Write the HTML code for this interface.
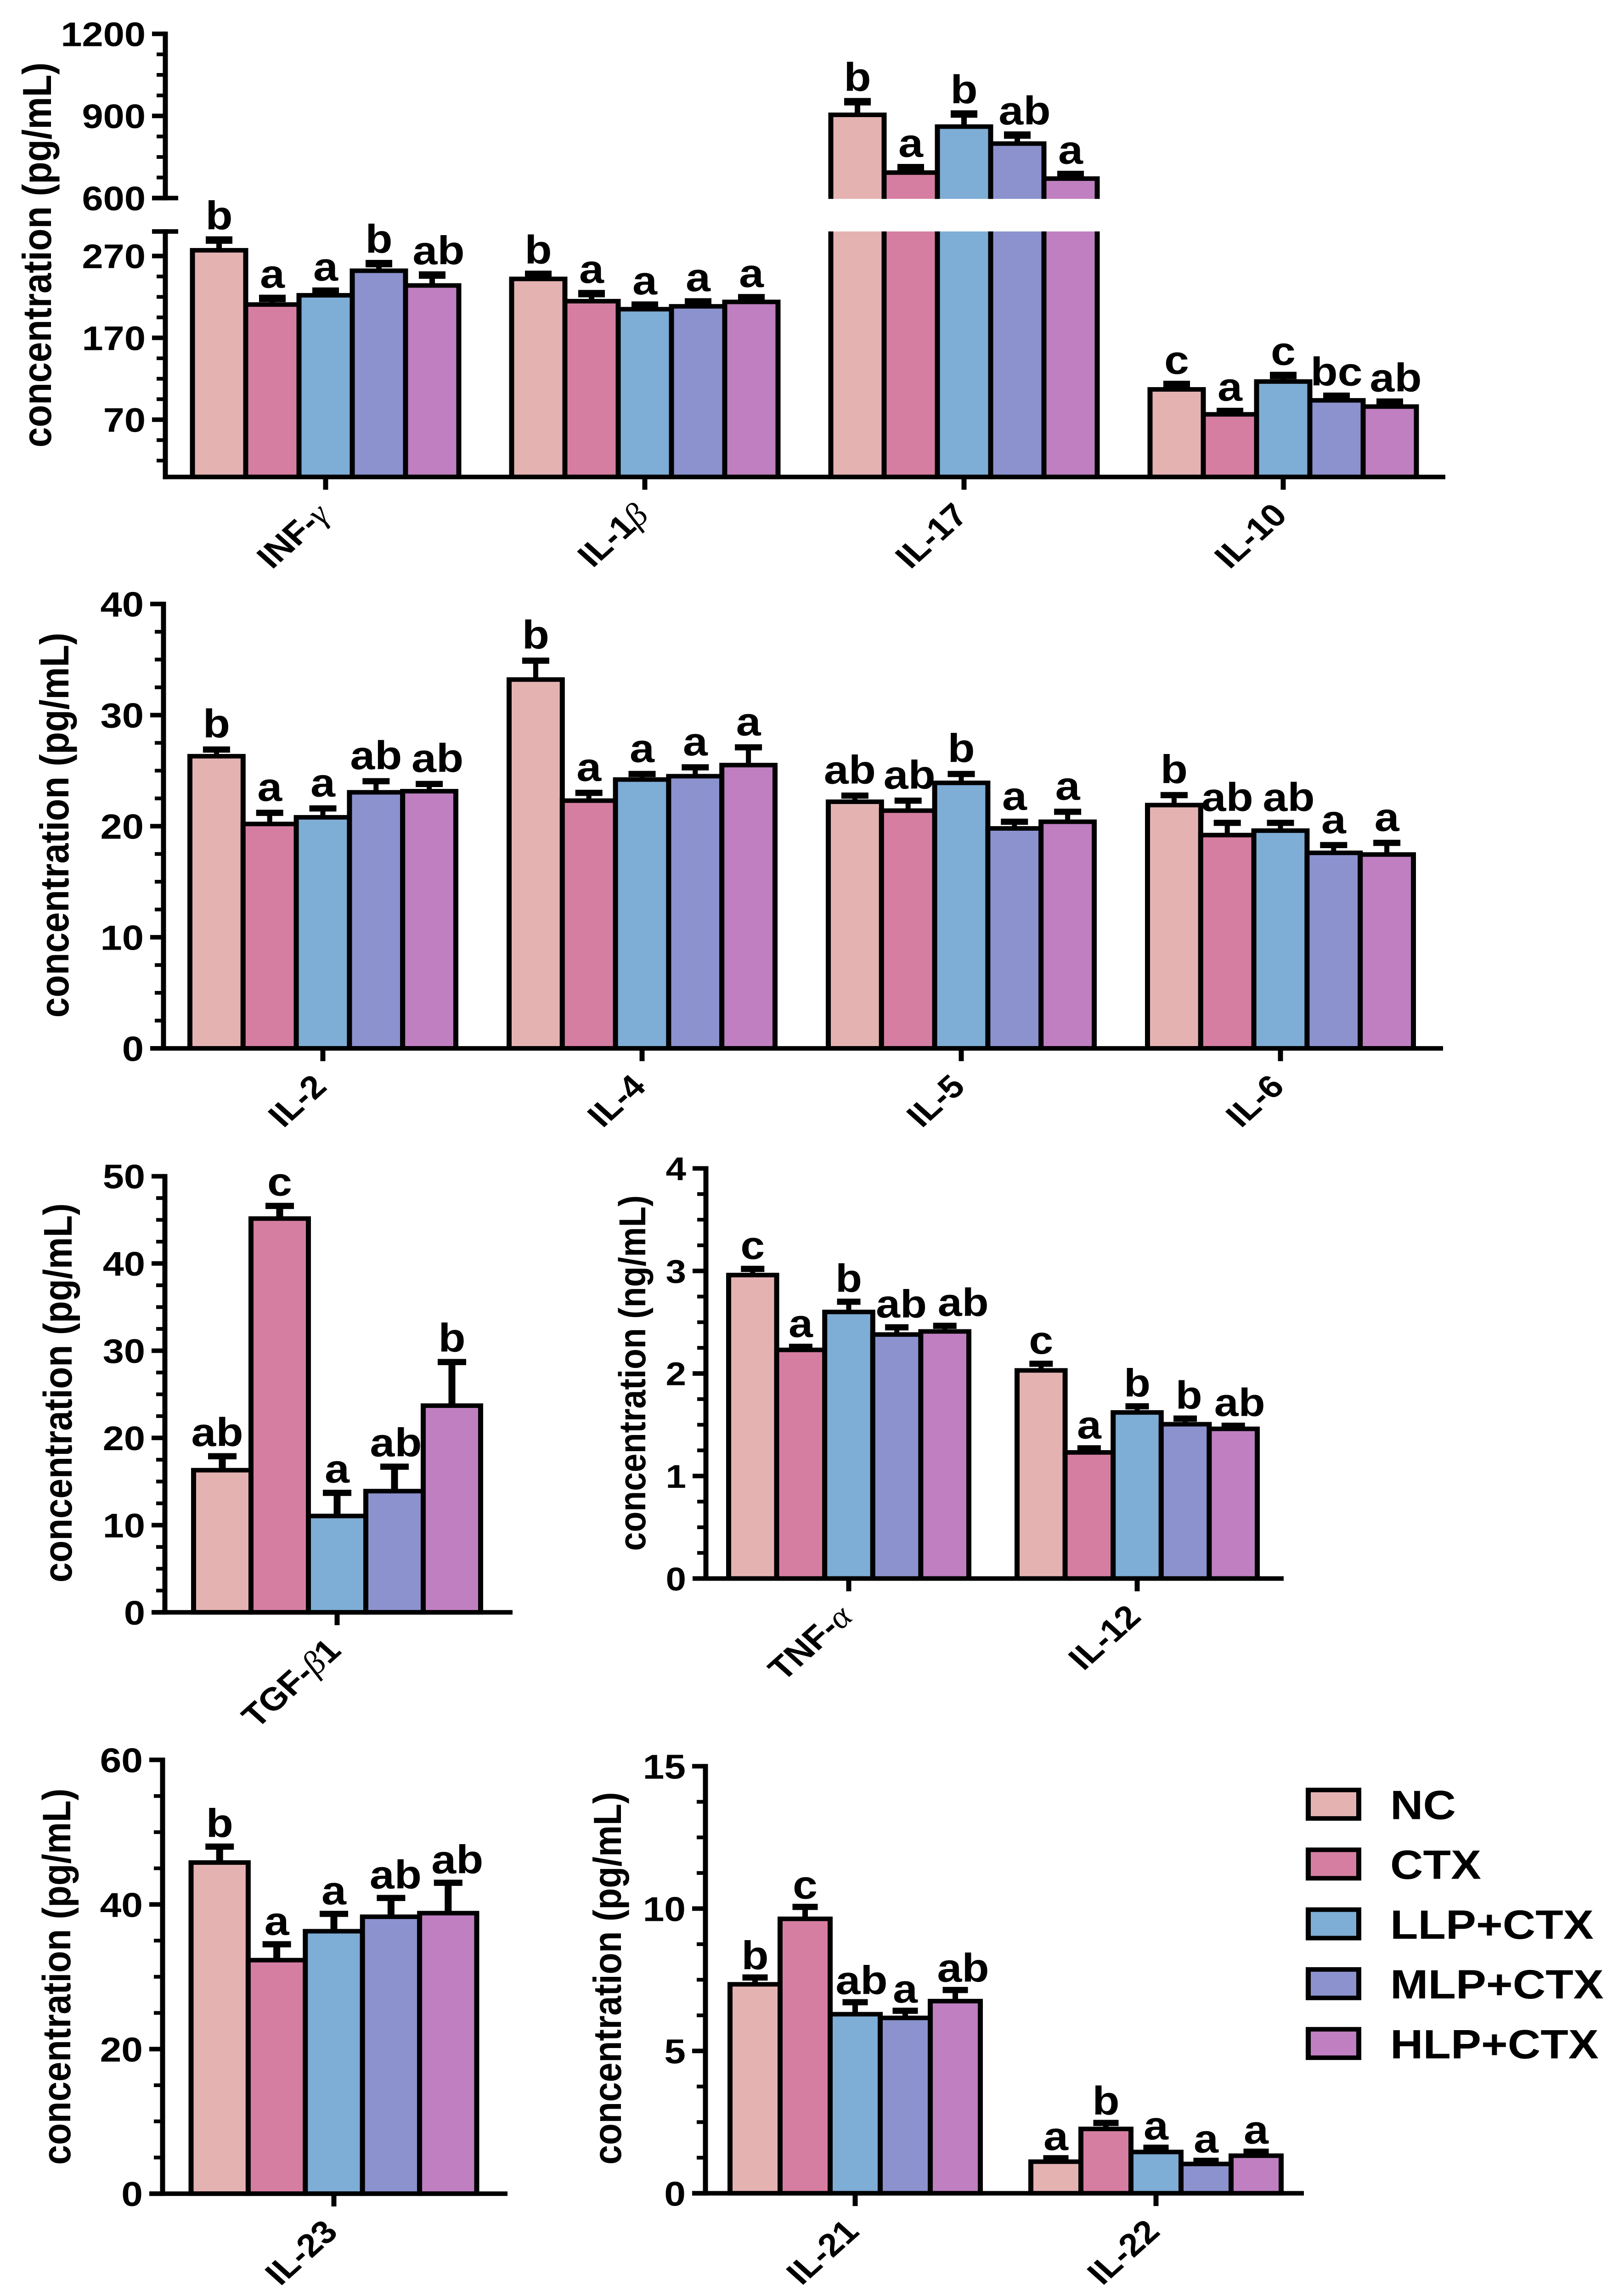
<!DOCTYPE html>
<html lang="en">
<head>
<meta charset="utf-8">
<title>Cytokine concentrations</title>
<style>
html,body{margin:0;padding:0;background:#fff;width:100%;height:100%;overflow:hidden;}
svg{display:block;position:absolute;left:0;top:0;overflow:hidden;width:100vw;height:100vh;}
text{font-family:"Liberation Sans",sans-serif;font-weight:bold;fill:#000;}
</style>
</head>
<body>
<svg id="figure" xmlns="http://www.w3.org/2000/svg" viewBox="0 0 3536 5565" preserveAspectRatio="none">
  <rect x="0" y="0" width="3536" height="5565" fill="#fff"/>
  <g id="panels"></g>
  <g>
    <g>
      <rect x="2848.5" y="4338.5" width="110" height="69" fill="#E5B2B2" stroke="#000" stroke-width="11"/>
      <text x="3027" y="4409" font-size="99">NC</text>
    </g>
    <g>
      <rect x="2848.5" y="4483.5" width="110" height="69" fill="#D67EA2" stroke="#000" stroke-width="11"/>
      <text x="3027" y="4554" font-size="99">CTX</text>
    </g>
    <g>
      <rect x="2848.5" y="4628.5" width="110" height="69" fill="#7EADD6" stroke="#000" stroke-width="11"/>
      <text x="3027" y="4699" font-size="99">LLP+CTX</text>
    </g>
    <g>
      <rect x="2848.5" y="4773.5" width="110" height="69" fill="#8B92CE" stroke="#000" stroke-width="11"/>
      <text x="3027" y="4844" font-size="99">MLP+CTX</text>
    </g>
    <g>
      <rect x="2848.5" y="4918.5" width="110" height="69" fill="#BF7FC1" stroke="#000" stroke-width="11"/>
      <text x="3027" y="4989" font-size="99">HLP+CTX</text>
    </g>
  </g>
</svg>
<script>
/* ---------- shared series ---------- */
const seriesNames = ['NC', 'CTX', 'LLP+CTX', 'MLP+CTX', 'HLP+CTX'];
const seriesColors = ['#E5B2B2', '#D67EA2', '#7EADD6', '#8B92CE', '#BF7FC1'];

/* ---------- panel 1 ---------- */
const p1Categories = ['INF-γ', 'IL-1β', 'IL-17', 'IL-10'];
const p1Means = [[277, 210.7, 222, 252, 234], [242, 214.8, 205, 208.5, 213.9], [904, 693, 861, 799, 671], [107, 76.5, 116.6, 93.6, 86]];
const p1Errors = [[12.5, 7.5, 5, 8.7, 12.7], [5.6, 9.2, 5, 5.4, 5.1], [48, 18, 46, 31, 15], [6, 3.5, 7.4, 5, 5.4]];
const p1Letters = [['b', 'a', 'a', 'b', 'ab'], ['b', 'a', 'a', 'a', 'a'], ['b', 'a', 'b', 'ab', 'a'], ['c', 'a', 'c', 'bc', 'ab']];
const p1MajorTicks = [70, 170, 270, 600, 900, 1200];
const p1MinorTicks = [20, 45, 95, 120, 145, 195, 220, 245, 675, 750, 825, 975, 1050, 1125];

/* ---------- panel 2 ---------- */
const p2Categories = ['IL-2', 'IL-4', 'IL-5', 'IL-6'];
const p2Means = [[26.3, 20.2, 20.8, 23.05, 23.15], [33.2, 22.3, 24.2, 24.5, 25.5], [22.2, 21.4, 23.9, 19.8, 20.4], [21.9, 19.2, 19.6, 17.6, 17.45]];
const p2Errors = [[0.6, 1, 0.8, 1, 0.65], [1.7, 0.7, 0.5, 0.8, 1.6], [0.55, 0.9, 0.8, 0.6, 0.9], [0.9, 1.1, 0.7, 0.7, 1.05]];
const p2Letters = [['b', 'a', 'a', 'ab', 'ab'], ['b', 'a', 'a', 'a', 'a'], ['ab', 'ab', 'b', 'a', 'a'], ['b', 'ab', 'ab', 'a', 'a']];
const p2MajorTicks = [0, 10, 20, 30, 40];
const p2MinorTicks = [2.5, 5, 7.5, 12.5, 15, 17.5, 22.5, 25, 27.5, 32.5, 35, 37.5];

/* ---------- panel 3 ---------- */
const p3Categories = ['TGF-β1'];
const p3Means = [[16.3, 45.15, 11.05, 13.9, 23.7]];
const p3Errors = [[1.6, 1.45, 2.65, 2.8, 5]];
const p3Letters = [['ab', 'c', 'a', 'ab', 'b']];
const p3MajorTicks = [0, 10, 20, 30, 40, 50];
const p3MinorTicks = [2.5, 5, 7.5, 12.5, 15, 17.5, 22.5, 25, 27.5, 32.5, 35, 37.5, 42.5, 45, 47.5];

/* ---------- panel 4 ---------- */
const p4Categories = ['TNF-α', 'IL-12'];
const p4Means = [[2.96, 2.23, 2.6, 2.38, 2.41], [2.03, 1.23, 1.62, 1.505, 1.46]];
const p4Errors = [[0.06, 0.03, 0.1, 0.07, 0.055], [0.065, 0.04, 0.06, 0.055, 0.03]];
const p4Letters = [['c', 'a', 'b', 'ab', 'ab'], ['c', 'a', 'b', 'b', 'ab']];
const p4MajorTicks = [0, 1, 2, 3, 4];
const p4MinorTicks = [0.25, 0.5, 0.75, 1.25, 1.5, 1.75, 2.25, 2.5, 2.75, 3.25, 3.5, 3.75];

/* ---------- panel 5 ---------- */
const p5Categories = ['IL-23'];
const p5Means = [[45.8, 32.3, 36.3, 38.3, 38.8]];
const p5Errors = [[2.2, 2.2, 2.4, 2.6, 4.2]];
const p5Letters = [['b', 'a', 'a', 'ab', 'ab']];
const p5MajorTicks = [0, 20, 40, 60];
const p5MinorTicks = [5, 10, 15, 25, 30, 35, 45, 50, 55];

/* ---------- panel 6 ---------- */
const p6Categories = ['IL-21', 'IL-22'];
const p6Means = [[7.34, 9.64, 6.29, 6.16, 6.75], [1.11, 2.26, 1.45, 1.03, 1.32]];
const p6Errors = [[0.24, 0.42, 0.42, 0.25, 0.39], [0.12, 0.21, 0.15, 0.11, 0.14]];
const p6Letters = [['b', 'c', 'ab', 'a', 'ab'], ['a', 'b', 'a', 'a', 'a']];
const p6MajorTicks = [0, 5, 10, 15];
const p6MinorTicks = [1.25, 2.5, 3.75, 6.25, 7.5, 8.75, 11.25, 12.5, 13.75];

/* ---------- panel frames (layout only) ---------- */
const panels = [
  { id: 'p1', categories: p1Categories, means: p1Means, errors: p1Errors, letters: p1Letters, major: p1MajorTicks, minor: p1MinorTicks,
    axisX: 360, base: 1156, top: 561, max: 300, upper: { top: 82, bottom: 480, from: 600, to: 1200 },
    center: 709, groupStep: 695, barW: 116, xEnd: 3147, capW: 58, capH: 18, stemW: 12, gap: 26,
    shift: { '0-4': 14, '2-3': 16, '3-4': 13 },
    title: 'concentration (pg/mL)', titleX: 111, titleY: 618, titleLen: 933, titleSize: 88, tickSize: 83, letterSize: 97 },
  { id: 'p2', categories: p2Categories, means: p2Means, errors: p2Errors, letters: p2Letters, major: p2MajorTicks, minor: p2MinorTicks,
    axisX: 356, base: 2541, top: 1464, max: 40,
    center: 703, groupStep: 695, barW: 115.8, xEnd: 3142, capW: 59, capH: 15, stemW: 11, gap: 29,
    shift: { '0-4': 18, '2-0': -11, '2-1': 3, '3-2': 18 },
    title: 'concentration (pg/mL)', titleX: 149, titleY: 2000, titleLen: 933, titleSize: 88, tickSize: 85, letterSize: 97 },
  { id: 'p3', categories: p3Categories, means: p3Means, errors: p3Errors, letters: p3Letters, major: p3MajorTicks, minor: p3MinorTicks,
    axisX: 359, base: 3908, top: 2851, max: 50,
    center: 734, groupStep: 0, barW: 125, xEnd: 1116, capW: 62, capH: 15, stemW: 15, gap: 25,
    shift: { '0-0': -11, '0-3': 3 },
    title: 'concentration (pg/mL)', titleX: 156, titleY: 3376, titleLen: 919, titleSize: 87, tickSize: 83, letterSize: 97 },
  { id: 'p4', categories: p4Categories, means: p4Means, errors: p4Errors, letters: p4Letters, major: p4MajorTicks, minor: p4MinorTicks,
    axisX: 1537, base: 3826, top: 2832, max: 4,
    center: 1848, groupStep: 628, barW: 104.6, xEnd: 2795, capW: 51, capH: 15, stemW: 11, gap: 24,
    shift: { '0-3': 10, '0-4': 40, '1-3': 8, '1-4': 14 },
    title: 'concentration (ng/mL)', titleX: 1405, titleY: 3328, titleLen: 862, titleSize: 82, tickSize: 80, letterSize: 95 },
  { id: 'p5', categories: p5Categories, means: p5Means, errors: p5Errors, letters: p5Letters, major: p5MajorTicks, minor: p5MinorTicks,
    axisX: 354, base: 5317, top: 4265.5, max: 60,
    center: 727, groupStep: 0, barW: 124.4, xEnd: 1105, capW: 62, capH: 15, stemW: 15, gap: 23,
    shift: { '0-3': 10, '0-4': 20 },
    title: 'concentration (pg/mL)', titleX: 153, titleY: 4791, titleLen: 912, titleSize: 86, tickSize: 84, letterSize: 97 },
  { id: 'p6', categories: p6Categories, means: p6Means, errors: p6Errors, letters: p6Letters, major: p6MajorTicks, minor: p6MinorTicks,
    axisX: 1536, base: 5316, top: 4281, max: 15,
    center: 1862, groupStep: 655, barW: 109, xEnd: 2839, capW: 55, capH: 15, stemW: 12, gap: 20,
    shift: { '0-2': 14, '0-4': 17 },
    title: 'concentration (pg/mL)', titleX: 1352, titleY: 4795, titleLen: 903, titleSize: 85, tickSize: 84, letterSize: 97 }
];

const NS = 'http://www.w3.org/2000/svg';
const STROKE = 11;
const root = document.getElementById('panels');

function make(tag, attrs, parent) {
  const el = document.createElementNS(NS, tag);
  for (const k in attrs) el.setAttribute(k, attrs[k]);
  parent.appendChild(el);
  return el;
}
function line(x1, y1, x2, y2, w, parent) {
  return make('line', { x1: x1, y1: y1, x2: x2, y2: y2, stroke: '#000', 'stroke-width': w }, parent);
}
function slug(s) {
  return s.toLowerCase().replace(/[^a-z0-9]+/g, '-');
}
function yScaleFor(p) {
  return function (v) {
    if (p.upper && v >= p.upper.from) {
      return p.upper.bottom - (v - p.upper.from) * (p.upper.bottom - p.upper.top) / (p.upper.to - p.upper.from);
    }
    return p.base - v * (p.base - p.top) / p.max;
  };
}
function formatCategory(textEl, label) {
  const m = label.match(/^(.*?)([αβγ])(.*)$/);
  if (!m) { textEl.textContent = label; return; }
  const a = make('tspan', {}, textEl); a.textContent = m[1];
  const g = make('tspan', { 'font-family': '"Liberation Serif", serif', 'font-weight': 'normal', 'font-style': 'italic' }, textEl); g.textContent = m[2];
  if (m[3]) { const c = make('tspan', {}, textEl); c.textContent = m[3]; }
}

panels.forEach(function (p) {
  const y = yScaleFor(p);
  const g = make('g', {}, root);
  
  

  /* bars */
  p.categories.forEach(function (cat, ci) {
    const cx = p.center + ci * p.groupStep;
    const left0 = cx - 2.5 * p.barW;
    p.means[ci].forEach(function (v, si) {
      const x0 = left0 + si * p.barW;
      const x1 = x0 + p.barW;
      const bar = make('g', {}, g);
      
      
      const yTop = y(v);
      if (p.upper && v >= p.upper.from) {
        const lowEnd = p.top;
        const upEnd = p.upper.bottom + 2;
        make('rect', { x: x0, y: lowEnd, width: p.barW, height: p.base - lowEnd, fill: seriesColors[si] }, bar);
        make('rect', { x: x0, y: yTop, width: p.barW, height: upEnd - yTop, fill: seriesColors[si] }, bar);
        make('path', { d: 'M' + x0 + ' ' + lowEnd + 'V' + p.base + 'H' + x1 + 'V' + lowEnd, fill: 'none', stroke: '#000', 'stroke-width': STROKE }, bar);
        make('path', { d: 'M' + x0 + ' ' + upEnd + 'V' + yTop + 'H' + x1 + 'V' + upEnd, fill: 'none', stroke: '#000', 'stroke-width': STROKE }, bar);
      } else {
        make('rect', { x: x0, y: yTop, width: p.barW, height: p.base - yTop, fill: seriesColors[si], stroke: '#000', 'stroke-width': STROKE }, bar);
      }
    });
  });

  /* error bars and significance letters */
  p.categories.forEach(function (cat, ci) {
    const cx = p.center + ci * p.groupStep;
    const left0 = cx - 2.5 * p.barW;
    p.means[ci].forEach(function (v, si) {
      const xm = left0 + (si + 0.5) * p.barW;
      const capY = y(v + p.errors[ci][si]);
      const err = make('g', {}, g);
      
      
      line(xm, y(v), xm, capY, p.stemW, err);
      line(xm - p.capW / 2, capY, xm + p.capW / 2, capY, p.capH, err);
      const dx = p.shift[ci + '-' + si] || 0;
      const t = make('text', { x: xm + dx, y: capY - p.gap, 'text-anchor': 'middle', 'font-size': p.letterSize }, g);
      t.textContent = p.letters[ci][si];
      
      
    });
  });

  /* y axis */
  const yAxis = make('g', {}, g);
  
  
  const tickLeft = p.axisX - 29;
  line(p.axisX, p.top - STROKE / 2, p.axisX, p.base + STROKE / 2, STROKE, yAxis);
  if (p.upper) {
    line(p.axisX, p.upper.top - STROKE / 2, p.axisX, p.upper.bottom + STROKE / 2, STROKE, yAxis);
    line(tickLeft, p.upper.bottom, p.axisX + 28, p.upper.bottom, STROKE, yAxis);
    line(tickLeft, p.top, p.axisX + 28, p.top, STROKE, yAxis);
  }
  p.minor.forEach(function (v) {
    line(p.axisX - 19, y(v), p.axisX, y(v), 9, yAxis);
  });
  p.major.forEach(function (v) {
    line(tickLeft, y(v), p.axisX, y(v), STROKE, yAxis);
    const t = make('text', { x: tickLeft - 14, y: y(v) + p.tickSize * 0.358, 'text-anchor': 'end', 'font-size': p.tickSize }, yAxis);
    t.textContent = String(v);
    
    
  });
  const title = make('text', { x: 0, y: 0, transform: 'translate(' + p.titleX + ' ' + p.titleY + ') rotate(-90)', 'text-anchor': 'middle', 'font-size': p.titleSize, textLength: p.titleLen, lengthAdjust: 'spacingAndGlyphs' }, g);
  title.textContent = p.title;
  
  

  /* x axis */
  const xAxis = make('g', {}, g);
  
  
  line(p.upper ? p.axisX - 5.5 : tickLeft, p.base, p.xEnd, p.base, STROKE, xAxis);
  p.categories.forEach(function (cat, ci) {
    const cx = p.center + ci * p.groupStep;
    line(cx, p.base, cx, p.base + 31, STROKE, xAxis);
    const ax = cx + 12;
    const ay = p.base + 97;
    const t = make('text', { x: ax, y: ay, 'text-anchor': 'end', 'font-size': 78, transform: 'rotate(-45 ' + ax + ' ' + ay + ')' }, xAxis);
    formatCategory(t, cat);
    
    
  });
});
</script>
</body>
</html>
